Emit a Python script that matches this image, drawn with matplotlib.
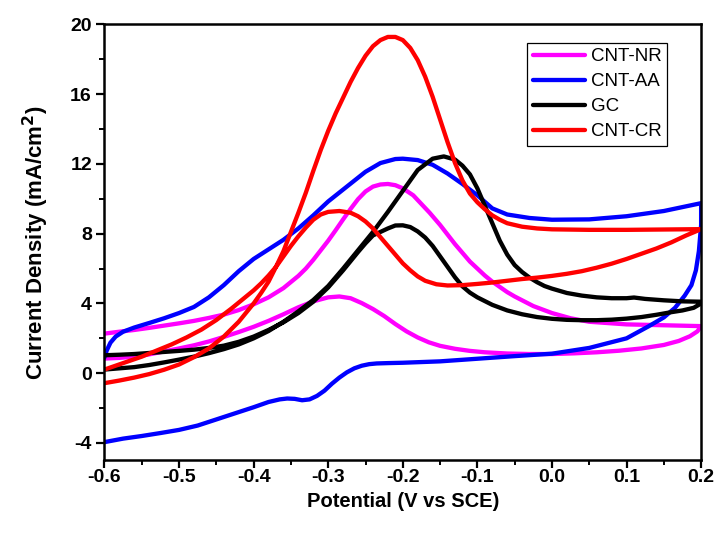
import numpy as np
import matplotlib
matplotlib.use("Agg")
import matplotlib.pyplot as plt
from matplotlib.ticker import MultipleLocator

plt.rcParams["font.family"] = ["Liberation Sans", "DejaVu Sans"]

# Valores: (potencial V, densidad de corriente mA/cm2)
# CNT-NR: rama inferior (pico pequeño) y vuelta por la rama superior
nr_pts = [(-0.6, 0.84), (-0.58, 0.88), (-0.56, 0.95), (-0.54, 1.08), (-0.52, 1.25), (-0.5, 1.42),
          (-0.48, 1.6), (-0.46, 1.82), (-0.44, 2.08), (-0.42, 2.36), (-0.4, 2.66), (-0.38, 3.0),
          (-0.36, 3.38), (-0.34, 3.78), (-0.32, 4.12), (-0.3, 4.35), (-0.285, 4.4), (-0.27, 4.3),
          (-0.255, 4.02), (-0.24, 3.68), (-0.225, 3.28), (-0.21, 2.82), (-0.195, 2.4), (-0.18, 2.05),
          (-0.165, 1.77), (-0.15, 1.57), (-0.13, 1.4), (-0.11, 1.28), (-0.09, 1.2), (-0.06, 1.13),
          (-0.03, 1.1), (0.0, 1.1), (0.03, 1.14), (0.06, 1.2), (0.09, 1.29), (0.12, 1.42), (0.15, 1.62),
          (0.17, 1.85), (0.185, 2.12), (0.195, 2.4), (0.2, 2.7),
          (0.15, 2.75), (0.1, 2.8), (0.05, 2.95), (0.025, 3.15), (0.0, 3.45), (-0.025, 3.85),
          (-0.05, 4.4), (-0.06, 4.65), (-0.07, 4.95), (-0.08, 5.25), (-0.09, 5.6), (-0.1, 6.0),
          (-0.11, 6.4), (-0.12, 6.9), (-0.13, 7.4), (-0.14, 7.95), (-0.15, 8.5), (-0.164, 9.2),
          (-0.175, 9.7), (-0.186, 10.2), (-0.2, 10.6), (-0.21, 10.78), (-0.22, 10.85), (-0.23, 10.82),
          (-0.24, 10.7), (-0.25, 10.42), (-0.26, 9.98), (-0.27, 9.42), (-0.28, 8.82), (-0.29, 8.2),
          (-0.3, 7.6), (-0.31, 7.05), (-0.32, 6.5), (-0.33, 6.0), (-0.34, 5.58), (-0.36, 4.88),
          (-0.38, 4.35), (-0.4, 3.95), (-0.42, 3.62), (-0.44, 3.36), (-0.46, 3.17), (-0.48, 3.0),
          (-0.5, 2.86), (-0.52, 2.73), (-0.54, 2.6), (-0.56, 2.48), (-0.58, 2.38), (-0.6, 2.27)]

# CNT-AA
aa_pts = [(-0.6, -3.95), (-0.575, -3.75), (-0.55, -3.6), (-0.525, -3.43), (-0.5, -3.25), (-0.475, -3.0),
          (-0.45, -2.65), (-0.425, -2.3), (-0.4, -1.95), (-0.38, -1.65), (-0.365, -1.5), (-0.355, -1.45),
          (-0.345, -1.47), (-0.335, -1.55), (-0.325, -1.5), (-0.315, -1.3), (-0.305, -1.0), (-0.295, -0.6),
          (-0.285, -0.25), (-0.275, 0.05), (-0.265, 0.28), (-0.255, 0.43), (-0.245, 0.52), (-0.235, 0.56),
          (-0.22, 0.58), (-0.2, 0.6), (-0.15, 0.68), (-0.1, 0.83), (-0.05, 0.98), (0.0, 1.12), (0.05, 1.45),
          (0.1, 2.0), (0.13, 2.7), (0.15, 3.2), (0.165, 3.75), (0.178, 4.45), (0.187, 5.05), (0.193, 5.9),
          (0.197, 7.0), (0.2, 8.5), (0.2, 9.75),
          (0.15, 9.3), (0.1, 9.0), (0.05, 8.82), (0.0, 8.8), (-0.03, 8.9), (-0.06, 9.1), (-0.08, 9.45),
          (-0.1, 10.2), (-0.12, 10.85), (-0.14, 11.45), (-0.16, 11.95), (-0.18, 12.22), (-0.2, 12.3),
          (-0.21, 12.28), (-0.23, 12.05), (-0.25, 11.55), (-0.275, 10.7), (-0.3, 9.85), (-0.32, 9.05),
          (-0.34, 8.3), (-0.36, 7.65), (-0.38, 7.1), (-0.4, 6.55), (-0.42, 5.85), (-0.44, 5.05),
          (-0.46, 4.35), (-0.48, 3.8), (-0.5, 3.45), (-0.52, 3.15), (-0.54, 2.88), (-0.56, 2.62),
          (-0.575, 2.38), (-0.585, 2.1), (-0.592, 1.75), (-0.597, 1.3), (-0.6, 0.9)]

# GC
gc_pts = [(-0.6, 0.21), (-0.58, 0.28), (-0.56, 0.35), (-0.54, 0.47), (-0.52, 0.62), (-0.5, 0.78),
          (-0.48, 0.95), (-0.46, 1.15), (-0.44, 1.38), (-0.42, 1.65), (-0.4, 2.0), (-0.38, 2.42),
          (-0.36, 2.95), (-0.34, 3.55), (-0.32, 4.2), (-0.3, 5.0), (-0.28, 6.0), (-0.26, 7.05),
          (-0.24, 8.1), (-0.22, 9.25), (-0.2, 10.45), (-0.18, 11.65), (-0.16, 12.3), (-0.145, 12.43),
          (-0.13, 12.25), (-0.12, 11.9), (-0.11, 11.4), (-0.1, 10.6), (-0.09, 9.6), (-0.08, 8.6),
          (-0.07, 7.6), (-0.06, 6.8), (-0.05, 6.2), (-0.04, 5.8), (-0.03, 5.48), (-0.02, 5.22),
          (-0.01, 5.0), (0.0, 4.85), (0.02, 4.6), (0.04, 4.45), (0.06, 4.35), (0.08, 4.3), (0.1, 4.3),
          (0.11, 4.34), (0.125, 4.26), (0.15, 4.18), (0.175, 4.12), (0.2, 4.1),
          (0.2, 4.0), (0.19, 3.75), (0.175, 3.6), (0.16, 3.5), (0.14, 3.35), (0.12, 3.22), (0.1, 3.13),
          (0.08, 3.07), (0.06, 3.04), (0.04, 3.04), (0.02, 3.06), (0.0, 3.12), (-0.02, 3.22),
          (-0.04, 3.38), (-0.06, 3.6), (-0.08, 3.92), (-0.1, 4.35), (-0.11, 4.62), (-0.12, 4.98),
          (-0.13, 5.5), (-0.14, 6.1), (-0.15, 6.7), (-0.16, 7.3), (-0.17, 7.78), (-0.18, 8.13),
          (-0.19, 8.38), (-0.2, 8.48), (-0.21, 8.47), (-0.22, 8.3), (-0.23, 8.1), (-0.24, 7.9),
          (-0.25, 7.45), (-0.26, 6.95), (-0.28, 5.9), (-0.3, 4.92), (-0.32, 4.1), (-0.34, 3.45),
          (-0.36, 2.92), (-0.38, 2.48), (-0.4, 2.1), (-0.42, 1.8), (-0.44, 1.58), (-0.46, 1.45),
          (-0.48, 1.35), (-0.5, 1.28), (-0.52, 1.22), (-0.54, 1.16), (-0.56, 1.1), (-0.58, 1.06),
          (-0.6, 1.03)]

# CNT-CR
cr_pts = [(-0.6, -0.57), (-0.58, -0.42), (-0.56, -0.25), (-0.54, -0.05), (-0.52, 0.2), (-0.5, 0.5),
          (-0.48, 0.92), (-0.46, 1.42), (-0.44, 2.1), (-0.42, 2.95), (-0.4, 4.0), (-0.39, 4.6),
          (-0.38, 5.25), (-0.37, 6.1), (-0.36, 7.0), (-0.35, 8.1), (-0.34, 9.2), (-0.33, 10.35),
          (-0.32, 11.6), (-0.31, 12.8), (-0.3, 13.9), (-0.29, 14.9), (-0.28, 15.8), (-0.27, 16.7),
          (-0.26, 17.5), (-0.25, 18.2), (-0.24, 18.75), (-0.23, 19.1), (-0.22, 19.28), (-0.21, 19.28),
          (-0.2, 19.1), (-0.19, 18.65), (-0.18, 17.95), (-0.17, 17.0), (-0.16, 15.85), (-0.15, 14.55),
          (-0.14, 13.25), (-0.13, 12.05), (-0.12, 11.05), (-0.11, 10.3), (-0.1, 9.8), (-0.09, 9.4),
          (-0.08, 9.05), (-0.07, 8.8), (-0.06, 8.6), (-0.04, 8.4), (-0.02, 8.3), (0.0, 8.25), (0.05, 8.22),
          (0.1, 8.22), (0.15, 8.24), (0.2, 8.26),
          (0.18, 7.9), (0.16, 7.5), (0.14, 7.15), (0.12, 6.85), (0.1, 6.55), (0.08, 6.28), (0.06, 6.05),
          (0.04, 5.85), (0.02, 5.7), (0.0, 5.58), (-0.02, 5.48), (-0.04, 5.4), (-0.06, 5.3), (-0.08, 5.2),
          (-0.1, 5.12), (-0.12, 5.05), (-0.14, 5.03), (-0.155, 5.1), (-0.17, 5.3), (-0.18, 5.55),
          (-0.19, 5.9), (-0.2, 6.3), (-0.21, 6.8), (-0.22, 7.3), (-0.23, 7.8), (-0.24, 8.3), (-0.25, 8.7),
          (-0.26, 9.0), (-0.27, 9.2), (-0.285, 9.3), (-0.3, 9.25), (-0.31, 9.1), (-0.32, 8.8),
          (-0.33, 8.35), (-0.34, 7.85), (-0.35, 7.3), (-0.36, 6.7), (-0.37, 6.1), (-0.38, 5.6),
          (-0.39, 5.15), (-0.4, 4.75), (-0.41, 4.4), (-0.43, 3.7), (-0.45, 3.05), (-0.47, 2.5),
          (-0.49, 2.05), (-0.51, 1.65), (-0.53, 1.3), (-0.55, 0.95), (-0.575, 0.58), (-0.6, 0.21)]

curvas = [("CNT-NR", nr_pts, "#ff00ff"),
          ("CNT-AA", aa_pts, "#0000ff"),
          ("GC", gc_pts, "#000000"),
          ("CNT-CR", cr_pts, "#ff0000")]

xticks = [-0.6, -0.5, -0.4, -0.3, -0.2, -0.1, 0.0, 0.1, 0.2]
yticks = [-4, 0, 4, 8, 12, 16, 20]

fig = plt.figure(figsize=(7.18, 5.36), dpi=100)
ax = fig.add_axes([0.1455, 0.141, 0.831, 0.8135])

for nombre, pts, color in curvas:
    arr = np.array(pts)
    ax.plot(arr[:, 0], arr[:, 1], color=color, linewidth=3.1, label=nombre,
            solid_joinstyle="round", solid_capstyle="round")

ax.set_xlim(-0.6, 0.2)
ax.set_ylim(-5, 20)
ax.set_xticks(xticks)
ax.set_yticks(yticks)
ax.set_xticklabels([f"{v:.1f}" for v in xticks])
ax.set_yticklabels([str(v) for v in yticks])
ax.xaxis.set_minor_locator(MultipleLocator(0.05))
ax.yaxis.set_minor_locator(MultipleLocator(2))

ax.tick_params(which="major", direction="out", length=6, width=1.6, labelsize=14, pad=3)
ax.tick_params(axis="x", which="major", pad=0.5)
ax.tick_params(which="minor", direction="out", length=3.5, width=1.4)
for lab in ax.get_xticklabels() + ax.get_yticklabels():
    lab.set_fontweight("bold")
for s in ax.spines.values():
    s.set_linewidth(1.8)

ax.set_xlabel("Potential (V vs SCE)", fontsize=14.5, fontweight="bold", labelpad=4)
ax.set_ylabel("Current Density (mA/cm$^\\mathbf{2}$)", fontsize=16, fontweight="bold", labelpad=14)

leg = ax.legend(loc="upper right", bbox_to_anchor=(0.943, 0.958), borderaxespad=0,
                fontsize=13.5, frameon=True, fancybox=False, framealpha=1,
                handlelength=2.8, handletextpad=0.3, labelspacing=0.42, borderpad=0.3)
leg.get_frame().set_edgecolor("black")
leg.get_frame().set_linewidth(0.9)

fig.savefig("out.png", dpi=100)
